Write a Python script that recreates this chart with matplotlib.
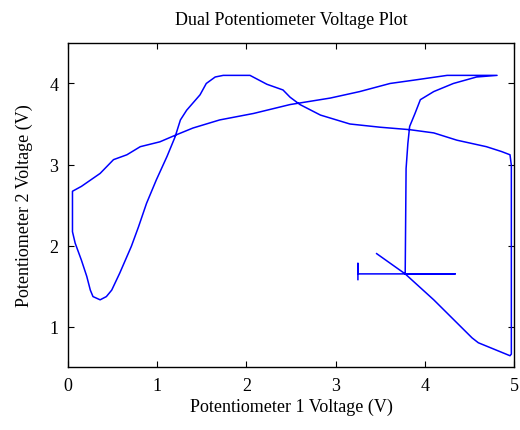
import numpy as np
import matplotlib
matplotlib.use("Agg")
import matplotlib.pyplot as plt

# traced path of the two potentiometer voltages (V)
pot1 = [3.46, 3.78, 4.10, 4.53, 4.60, 4.955, 4.97, 4.97, 4.955, 4.86,
        4.69, 4.36, 4.10, 3.83, 3.50, 3.16, 3.01, 2.83, 2.60, 2.49,
        2.41, 2.23, 2.04, 1.74, 1.65, 1.55, 1.48, 1.33, 1.26, 1.20,
        1.11, 0.99, 0.88, 0.79, 0.71, 0.58, 0.49, 0.43, 0.36, 0.28,
        0.25, 0.21, 0.15, 0.08, 0.05, 0.05, 0.15, 0.36, 0.51, 0.66,
        0.81, 1.03, 1.20, 1.40, 1.70, 2.08, 2.49, 2.94, 3.27, 3.61,
        3.87, 4.25, 4.81, 4.58, 4.32, 4.10, 3.95, 3.89, 3.83, 3.81,
        3.79, 3.78, 4.34, 3.25, 3.25, 3.25]
pot2 = [1.90, 1.65, 1.33, 0.86, 0.80, 0.64, 0.66, 2.99, 3.12, 3.16,
        3.22, 3.30, 3.39, 3.43, 3.46, 3.50, 3.55, 3.61, 3.74, 3.83,
        3.92, 3.99, 4.10, 4.10, 4.08, 4.00, 3.86, 3.67, 3.55, 3.34,
        3.10, 2.81, 2.52, 2.23, 1.99, 1.66, 1.45, 1.37, 1.33, 1.37,
        1.45, 1.62, 1.82, 2.03, 2.17, 2.67, 2.73, 2.89, 3.06, 3.12,
        3.22, 3.28, 3.36, 3.45, 3.55, 3.63, 3.74, 3.82, 3.90, 4.00,
        4.04, 4.10, 4.10, 4.08, 4.00, 3.90, 3.80, 3.63, 3.47, 3.26,
        2.95, 1.65, 1.65, 1.65, 1.78, 1.58]

plt.rcParams['font.family'] = 'Liberation Serif'

fig = plt.figure(figsize=(5.2, 4.31), dpi=100)
ax = fig.add_axes([0.1308, 0.146, 0.8577, 0.752])
ax.plot(pot1, pot2, color='#0000ff', lw=1.1)

ax.set_xlim(0, 5)
ax.set_ylim(0.5, 4.5)
ax.set_xticks([0, 1, 2, 3, 4, 5])
ax.set_yticks([1, 2, 3, 4])
ax.tick_params(direction='in', top=True, right=True, length=4, labelsize=13, pad=7)
for s in ax.spines.values():
    s.set_linewidth(1.0)

ax.set_title("Dual Potentiometer Voltage Plot", fontsize=13, pad=14)
ax.set_xlabel("Potentiometer 1 Voltage (V)", fontsize=13, labelpad=3)
ax.set_ylabel("Potentiometer 2 Voltage (V)", fontsize=13, labelpad=12)

plt.savefig("out.png", dpi=100)
